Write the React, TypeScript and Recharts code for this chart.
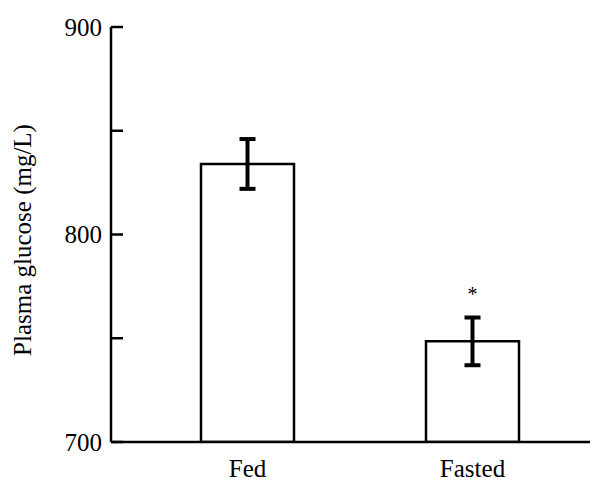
import React from "react";
import { BarChart, Bar, XAxis, YAxis, ErrorBar, LabelList } from "recharts";

const groups = ["Fed", "Fasted"];
const glucose = [834, 748.5];
const sem = [12, 11.5];
const marks = ["", "*"];
const yTicks = [700, 750, 800, 850, 900];

const data = groups.map((g, i) => ({
  name: g,
  glucose: glucose[i],
  sem: sem[i],
  mark: marks[i],
}));

const font = "'Liberation Serif', 'Times New Roman', serif";

// only every 100 gets a label, the 750/850 ticks are bare
const YTick = (props: any) => {
  const { x, y, payload } = props;
  if (payload.value % 100 !== 0) return null;
  return (
    <text x={x} y={y} dy="0.355em" textAnchor="end" fontSize={25} fontFamily={font} fill="#000">
      {payload.value}
    </text>
  );
};

const App = () => {
  return (
    <div style={{ position: "absolute", left: 0, top: 0 }}>
      <BarChart
        width={599}
        height={484}
        data={data}
        margin={{ top: 27, right: 9, bottom: 0, left: 0 }}
        barCategoryGap={0}
      >
        <XAxis
          dataKey="name"
          height={42}
          padding={{ left: 24, right: 5 }}
          tickLine={false}
          tickSize={8}
          tickMargin={9}
          axisLine={{ stroke: "#000", strokeWidth: 2.5 }}
          tick={{ fill: "#000", fontSize: 25, fontFamily: font }}
        />
        <YAxis
          domain={[700, 900]}
          ticks={yTicks}
          width={111}
          tickSize={-12}
          tickMargin={21}
          allowDataOverflow
          axisLine={{ stroke: "#000", strokeWidth: 2.5 }}
          tickLine={{ stroke: "#000", strokeWidth: 2.5 }}
          tick={<YTick />}
          label={{
            content: () => (
              <text
                x={31}
                y={240}
                transform="rotate(-90, 31, 240)"
                textAnchor="middle"
                fontSize={25}
                fontFamily={font}
                fill="#000"
              >
                Plasma glucose (mg/L)
              </text>
            ),
          }}
        />
        <Bar
          dataKey="glucose"
          barSize={93}
          fill="#fff"
          stroke="#000"
          strokeWidth={2.5}
          isAnimationActive={false}
        >
          <ErrorBar dataKey="sem" width={8} stroke="#000" strokeWidth={4} />
          <LabelList
            dataKey="mark"
            position="top"
            offset={40}
            fill="#000"
            fontSize={20}
            fontFamily={font}
          />
        </Bar>
      </BarChart>
    </div>
  );
};

export default App;
